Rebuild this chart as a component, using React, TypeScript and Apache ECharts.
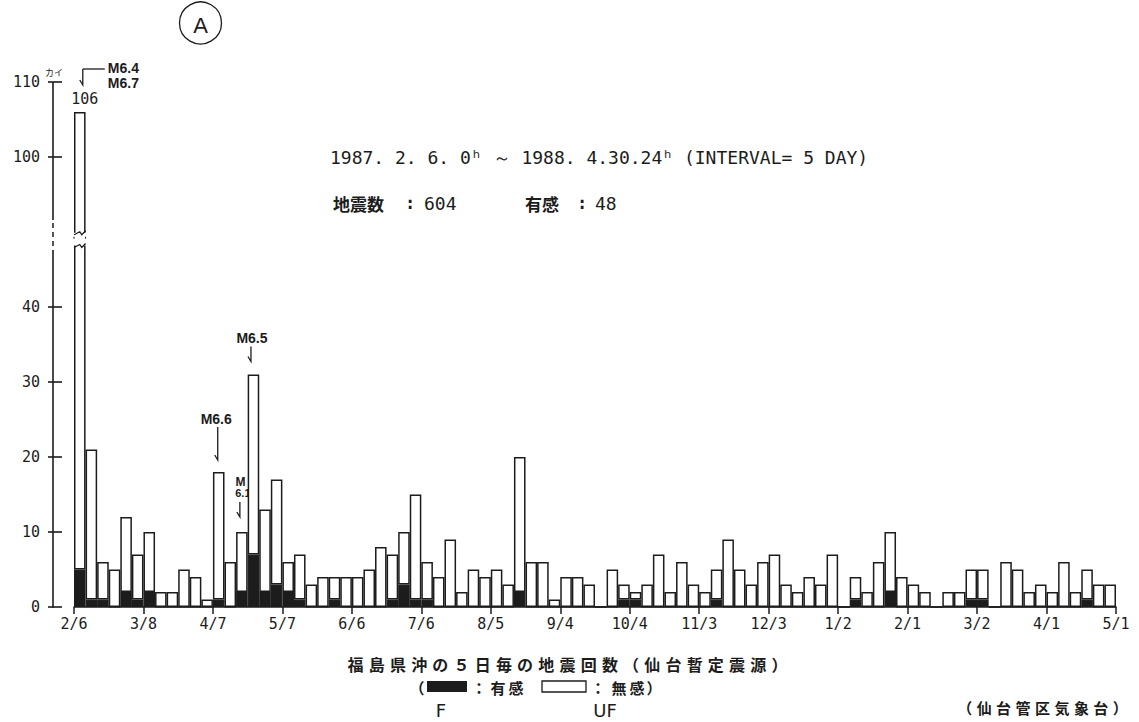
import React, { useEffect, useRef } from "react";
import * as echarts from "echarts";

// 5-day intervals starting 1987-02-06 (90 intervals up to 1988-04-30)
const xTickLabels = ["2/6", "3/8", "4/7", "5/7", "6/6", "7/6", "8/5", "9/4", "10/4", "11/3", "12/3", "1/2", "2/1", "3/2", "4/1", "5/1"];

// total number of earthquakes in each 5-day interval
const totalCounts = [
  106, 21, 6, 5, 12, 7, 10, 2, 2, 5,
  4, 1, 18, 6, 10, 31, 13, 17, 6, 7,
  3, 4, 4, 4, 4, 5, 8, 7, 10, 15,
  6, 4, 9, 2, 5, 4, 5, 3, 20, 6,
  6, 1, 4, 4, 3, 0, 5, 3, 2, 3,
  7, 2, 6, 3, 2, 5, 9, 5, 3, 6,
  7, 3, 2, 4, 3, 7, 0, 4, 2, 6,
  10, 4, 3, 2, 0, 2, 2, 5, 5, 0,
  6, 5, 2, 3, 2, 6, 2, 5, 3, 3,
];

// felt earthquakes (有感) in each interval
const feltCounts = [
  5, 1, 1, 0, 2, 1, 2, 0, 0, 0,
  0, 0, 1, 0, 2, 7, 2, 3, 2, 1,
  0, 0, 1, 0, 0, 0, 0, 1, 3, 1,
  1, 0, 0, 0, 0, 0, 0, 0, 2, 0,
  0, 0, 0, 0, 0, 0, 0, 1, 1, 0,
  0, 0, 0, 0, 0, 1, 0, 0, 0, 0,
  0, 0, 0, 0, 0, 0, 0, 1, 0, 0,
  2, 0, 0, 0, 0, 0, 0, 1, 1, 0,
  0, 0, 0, 0, 0, 0, 0, 1, 0, 0,
];

const yTickValues = [0, 10, 20, 30, 40, 100, 110];
const BREAK_SHIFT = 40; // values >= 100 are drawn 40 units lower (broken axis)
const BREAK_AT = 45;

const toDisplay = (v: number) => (v > BREAK_AT ? v - BREAK_SHIFT : v);
const toReal = (d: number) => (d > BREAK_AT ? d + BREAK_SHIFT : d);

const categories = totalCounts.map((_, i) => String(i));
const unfeltDisplay = totalCounts.map((t, i) => toDisplay(t) - feltCounts[i]);

const INK = "#1c1c1c";
const MONO = "'DejaVu Sans Mono', monospace";
const CJK = "'Noto Sans CJK JP', sans-serif";
const BOLD_SANS = "'Liberation Sans', Arial, sans-serif";
const AXIS_OFFSET = 21;

const captionLine = "福島県沖の５日毎の地震回数（仙台暫定震源）";
const sourceLine = "（仙台管区気象台）";

function buildGraphic(P: (x: number, y: number) => number[]) {
  const els: any[] = [];
  const x0 = Math.round(P(0, 0)[0] - AXIS_OFFSET);
  const y0 = P(0, 0)[1];
  const yLow = P(0, 47.6)[1];
  const yHigh = P(0, 51.6)[1];
  const yTop = P(0, 70)[1];
  const vbar = (x: number, ya: number, yb: number, w = 1.6) => ({
    type: "rect", z: 100, shape: { x: x - w / 2, y: Math.min(ya, yb), width: w, height: Math.abs(yb - ya) },
    style: { fill: INK },
  });
  const hbar = (xa: number, xb: number, y: number, h = 1.6) => ({
    type: "rect", z: 100, shape: { x: Math.min(xa, xb), y: y - h / 2, width: Math.abs(xb - xa), height: h },
    style: { fill: INK },
  });
  // y-axis line with a broken (dashed) part
  els.push(vbar(x0, y0 + 0.8, yLow));
  els.push(vbar(x0, yHigh, yTop));
  for (let y = yHigh + 3; y < yLow - 3; y += 9) {
    els.push(vbar(x0, y, Math.min(y + 5, yLow - 3), 1.5));
  }

  // break on the 106 bar
  const bl = P(0, 0)[0];
  const br = P(1, 0)[0];
  const zA = P(0, 49.9)[1];
  const zB = P(0, 48.2)[1];
  els.push({ type: "rect", z: 100, shape: { x: bl - 2, y: zA, width: br - bl + 4, height: zB - zA }, style: { fill: "#fff" } });
  const zig = (y: number) => [[bl, y + 2], [bl + (br - bl) * 0.5, y - 1], [bl + (br - bl) * 0.5 + 2, y + 2], [br, y - 2]];
  els.push({ type: "polyline", z: 101, shape: { points: zig(zA) }, style: { stroke: INK, lineWidth: 1.3, fill: null } });
  els.push({ type: "polyline", z: 101, shape: { points: zig(zB) }, style: { stroke: INK, lineWidth: 1.3, fill: null } });
  els.push(vbar(bl, zA + 4, zA + 6, 1));
  els.push(vbar(br, zA + 4, zA + 6, 1));

  const arrow = (x: number, y1: number, y2: number) => ({
    type: "polyline", z: 100,
    shape: { points: [[x - 3, y2 - 5], [x, y2], [x, y1]] },
    style: { stroke: INK, lineWidth: 1.3, fill: null },
  });
  const mText = (text: string, x: number, y: number, align = "center", z = 100, size = 14) => ({
    type: "text", z, x, y,
    style: { text, fill: INK, font: `bold ${size}px ${BOLD_SANS}`, align, verticalAlign: "middle" },
  });

  // bar 0 annotations
  const [b0x, b0y] = P(0.5, toDisplay(totalCounts[0]));
  els.push({ type: "text", z: 100, x: b0x + 5, y: b0y - 13, style: { text: String(totalCounts[0]), fill: INK, font: `15px ${MONO}`, align: "center", verticalAlign: "middle" } });
  els.push(arrow(b0x + 3, b0y - 43, b0y - 27));
  els.push(hbar(b0x + 3, b0x + 25, b0y - 43, 1.3));
  els.push(mText("M6.4", b0x + 28, b0y - 44, "left"));
  els.push(mText("M6.7", b0x + 28, b0y - 29, "left"));

  // M6.5 on bar 15
  const [b15x, b15y] = P(15.5, toDisplay(totalCounts[15]));
  els.push(mText("M6.5", b15x - 1.5, b15y - 37));
  els.push(arrow(b15x - 2.5, b15y - 28, b15y - 13));
  // M6.6 on bar 12
  const [b12x, b12y] = P(12.5, toDisplay(totalCounts[12]));
  els.push(mText("M6.6", b12x - 2.5, b12y - 53));
  els.push(arrow(b12x - 1, b12y - 45, b12y - 12));
  // M6.1 on bar 14 (partly hidden behind bar 15)
  const [b14x, b14y] = P(14.5, toDisplay(totalCounts[14]));
  els.push(mText("M", b14x - 1.5, b14y - 50, "center", 1, 12));
  els.push(mText("6.1", b14x + 1, b14y - 39, "center", 1, 11));
  els.push(arrow(b14x - 2, b14y - 30, b14y - 15));

  // unit label
  els.push({ type: "text", z: 100, x: 45, y: 72, style: { text: "カイ", fill: INK, font: `9px ${CJK}`, align: "left", verticalAlign: "middle" } });

  // circled A
  els.push({ type: "circle", z: 100, shape: { cx: 200.5, cy: 23, r: 21 }, style: { fill: "none", stroke: INK, lineWidth: 1.3 } });
  els.push({ type: "text", z: 100, x: 200.5, y: 25, style: { text: "A", fill: INK, font: `22px 'Liberation Sans', sans-serif`, align: "center", verticalAlign: "middle" } });

  // header
  els.push({ type: "text", z: 100, x: 330, y: 157, style: { text: "1987. 2. 6. 0ʰ ～ 1988. 4.30.24ʰ (INTERVAL= 5 DAY)", fill: INK, font: `18px ${MONO}`, align: "left", verticalAlign: "middle" } });
  const hdr = (text: string, x: number, font: string) => ({ type: "text", z: 100, x, y: 203, style: { text, fill: INK, font, align: "left", verticalAlign: "middle" } });
  els.push(hdr("地震数", 333, `bold 17px ${CJK}`));
  els.push(hdr(":", 405, `bold 17px ${MONO}`));
  els.push(hdr("604", 424, `18px ${MONO}`));
  els.push(hdr("有感", 525, `bold 17px ${CJK}`));
  els.push(hdr(":", 577, `bold 17px ${MONO}`));
  els.push(hdr("48", 595, `18px ${MONO}`));

  // bottom caption
  const step = 445 / captionLine.length;
  Array.from(captionLine).forEach((ch, i) => {
    els.push({ type: "text", z: 100, x: 345 + (i + 0.5) * step, y: 664, style: { text: ch, fill: INK, font: `bold 16px ${CJK}`, align: "center", verticalAlign: "middle" } });
  });
  const legendText = (text: string, cx: number) => ({ type: "text", z: 100, x: cx, y: 687, style: { text, fill: INK, font: `bold 15px ${CJK}`, align: "center", verticalAlign: "middle" } });
  els.push(legendText("（", 417));
  els.push({ type: "rect", z: 100, shape: { x: 427, y: 681, width: 40, height: 11 }, style: { fill: INK } });
  els.push(legendText("：", 479));
  els.push(legendText("有", 498));
  els.push(legendText("感", 516));
  els.push({ type: "rect", z: 100, shape: { x: 542, y: 681, width: 44, height: 11 }, style: { fill: "none", stroke: INK, lineWidth: 1.3 } });
  els.push(legendText("：", 598));
  els.push(legendText("無", 619));
  els.push(legendText("感", 637));
  els.push(legendText("）", 654));
  els.push({ type: "text", z: 100, x: 441, y: 710, style: { text: "F", fill: INK, font: `18px 'DejaVu Sans', sans-serif`, align: "center", verticalAlign: "middle" } });
  els.push({ type: "text", z: 100, x: 605, y: 710, style: { text: "UF", fill: INK, font: `18px 'DejaVu Sans', sans-serif`, align: "center", verticalAlign: "middle" } });
  const sStep = 175 / sourceLine.length;
  Array.from(sourceLine).forEach((ch, i) => {
    els.push({ type: "text", z: 100, x: 955 + (i + 0.5) * sStep, y: 707, style: { text: ch, fill: INK, font: `bold 15px ${CJK}`, align: "center", verticalAlign: "middle" } });
  });
  return els;
}

export default function App() {
  const ref = useRef<HTMLDivElement>(null);
  useEffect(() => {
    const chart = echarts.init(ref.current!, null, { renderer: "svg" });
    const tickStyle = { color: INK, width: 1.5 };
    chart.setOption({
      animation: false,
      backgroundColor: "#fff",
      grid: { left: 74, right: 23, top: 82, bottom: 115, containLabel: false },
      xAxis: [
        { type: "category", data: categories, show: false, boundaryGap: true },
        {
          type: "value", min: 0, max: 90, interval: 6, position: "bottom",
          axisLine: { show: true, lineStyle: tickStyle },
          axisTick: { show: true, length: 7, lineStyle: tickStyle },
          axisLabel: {
            formatter: (v: number) => xTickLabels[Math.round(v / 6)] ?? "",
            fontFamily: MONO, fontSize: 15, color: INK, margin: 9,
            showMinLabel: true, showMaxLabel: true,
          },
          splitLine: { show: false },
        },
      ],
      yAxis: [
        {
          type: "value", min: 0, max: 70, interval: 10, position: "left", offset: AXIS_OFFSET,
          axisLine: { show: false },
          splitLine: { show: false },
          axisTick: { show: false },
          axisLabel: {
            customValues: yTickValues.map(toDisplay),
            formatter: (v: number) => String(toReal(v)),
            fontFamily: MONO, fontSize: 15, color: INK, margin: 13,
          },
        },
      ],
      series: [
        {
          name: "有感", type: "bar", stack: "n", xAxisIndex: 0, yAxisIndex: 0,
          data: feltCounts, barCategoryGap: "0%",
          itemStyle: { color: INK, borderColor: INK, borderWidth: 1.2 },
        },
        {
          name: "無感", type: "bar", stack: "n", xAxisIndex: 0, yAxisIndex: 0,
          data: unfeltDisplay, barCategoryGap: "0%",
          itemStyle: { color: "#fff", borderColor: INK, borderWidth: 1.5 },
        },
        {
          // y-axis ticks crossing the (offset) axis line
          name: "yTicks", type: "custom", xAxisIndex: 1, yAxisIndex: 0,
          silent: true, clip: false, z: 60,
          data: yTickValues.map((v) => [0, toDisplay(v)]),
          renderItem: (_params: any, api: any) => {
            const p = api.coord([0, api.value(1)]);
            const ax = Math.round(p[0] - AXIS_OFFSET);
            return {
              type: "rect",
              shape: { x: ax - 5, y: p[1] - 0.8, width: 14, height: 1.6 },
              style: { fill: INK },
            };
          },
        },
      ],
    });
    const P = (x: number, y: number) =>
      chart.convertToPixel({ xAxisIndex: 1, yAxisIndex: 0 } as any, [x, y]) as unknown as number[];
    chart.setOption({ graphic: buildGraphic(P) });
    return () => chart.dispose();
  }, []);
  return (
    <div
      ref={ref}
      style={{ position: "absolute", left: 0, top: 0, width: 1139, height: 722, background: "#fff" }}
    />
  );
}
